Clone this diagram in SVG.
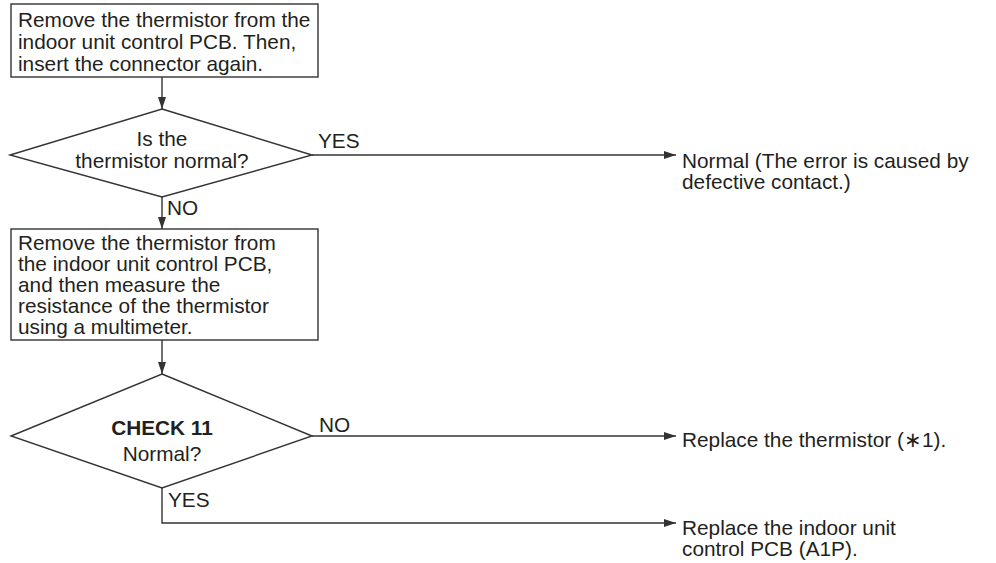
<svg xmlns="http://www.w3.org/2000/svg" width="996" height="563" viewBox="0 0 996 563">
<style>
.box{fill:#fff;stroke:#333;stroke-width:1.4}
.ln{fill:none;stroke:#333;stroke-width:1.4}
text{font-family:"Liberation Sans",Arial,sans-serif;font-size:20.8px;fill:#231f20}
.t{font-size:20.8px}
.c{text-anchor:middle}
.b{font-weight:bold}
</style>
<defs>
<marker id="ah" markerWidth="12" markerHeight="8" refX="12" refY="4" orient="auto" markerUnits="userSpaceOnUse">
<path d="M0,0 L12,4 L0,8 Z" fill="#333"/>
</marker>
</defs>
<g id="n1">
<rect class="box" x="11" y="4" width="307" height="73"/>
<text class="t" x="18" y="27">Remove the thermistor from the</text>
<text class="t" x="18" y="49">indoor unit control PCB. Then,</text>
<text class="t" x="18" y="71">insert the connector again.</text>
</g>
<g id="n2">
<polygon class="box" points="162,109 312,155 162,197 10,155"/>
<text class="c" x="162" y="146">Is the</text>
<text class="c" x="162" y="168">thermistor normal?</text>
</g>
<g id="n3">
<text x="682" y="168">Normal (The error is caused by</text>
<text x="682" y="189">defective contact.)</text>
</g>
<g id="n4">
<rect class="box" x="11" y="229" width="307" height="111"/>
<text class="t" x="18" y="250">Remove the thermistor from</text>
<text class="t" x="18" y="271">the indoor unit control PCB,</text>
<text class="t" x="18" y="292">and then measure the</text>
<text class="t" x="18" y="313">resistance of the thermistor</text>
<text class="t" x="18" y="334">using a multimeter.</text>
</g>
<g id="n5">
<polygon class="box" points="162,374 312,436 162,488 11,436"/>
<text class="c b" x="162" y="435">CHECK 11</text>
<text class="c" x="162" y="461">Normal?</text>
</g>
<g id="n6">
<text x="682" y="447">Replace the thermistor (∗1).</text>
</g>
<g id="n7">
<text x="682" y="535">Replace the indoor unit</text>
<text x="682" y="556">control PCB (A1P).</text>
</g>
<g id="connectors">
<line class="ln" x1="162" y1="77" x2="162" y2="109" marker-end="url(#ah)"/>
<line class="ln" x1="312" y1="155" x2="676" y2="155" marker-end="url(#ah)"/>
<text x="318" y="148">YES</text>
<line class="ln" x1="162" y1="197" x2="162" y2="229" marker-end="url(#ah)"/>
<text x="167" y="215">NO</text>
<line class="ln" x1="162" y1="340" x2="162" y2="374" marker-end="url(#ah)"/>
<line class="ln" x1="312" y1="436" x2="676" y2="436" marker-end="url(#ah)"/>
<text x="319" y="432">NO</text>
<polyline class="ln" points="162,488 162,523 676,523" marker-end="url(#ah)"/>
<text x="168" y="507">YES</text>
</g>
</svg>
